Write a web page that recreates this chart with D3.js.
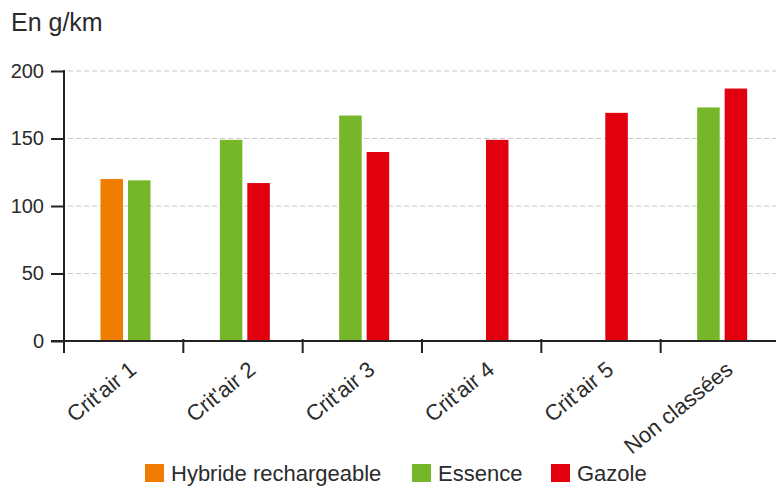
<!DOCTYPE html>
<html>
<head>
<meta charset="utf-8">
<script src="https://cdn.jsdelivr.net/npm/d3@7"></script>
<style>
  html, body { margin: 0; padding: 0; background: #fff; }
  svg text { font-family: "Liberation Sans", Arial, sans-serif; fill: #2b2b2b; }
</style>
</head>
<body>
<svg id="chart" width="776" height="489"></svg>
<script>
// Emissions moyennes de CO2 par vignette Crit'Air et motorisation (g/km)
const categories = ["Crit'air 1", "Crit'air 2", "Crit'air 3", "Crit'air 4", "Crit'air 5", "Non classées"];
const hybride = [120, null, null, null, null, null];
const essence = [119, 149, 167, null, null, 173];
const gazole  = [null, 117, 140, 149, 169, 187];
const yTicks  = [0, 50, 100, 150, 200];
const seriesNames  = ["Hybride rechargeable", "Essence", "Gazole"];
const seriesColors = ["#f07d00", "#76b72a", "#e2000f"];
const seriesValues = [hybride, essence, gazole];

const svg = d3.select("#chart");
const W = 776;

const y = d3.scaleLinear().domain([0, 200]).range([341, 71]);
const x = d3.scaleBand().domain(categories).range([64, 780]).padding(0);
// two bar slots per category; present series fill them from the right
const slot = d3.scaleBand().domain([0, 1]).range([36.5, 86.5]).paddingInner(0.18).paddingOuter(0);

// dashed gridlines
svg.append("g").selectAll("line")
  .data(yTicks.filter(d => d > 0))
  .join("line")
  .attr("x1", 68).attr("x2", W)
  .attr("y1", d => y(d)).attr("y2", d => y(d))
  .attr("stroke", "#c9c9c9").attr("stroke-width", 1.2)
  .attr("stroke-dasharray", "5,3");

// bars
const bars = [];
categories.forEach((c, i) => {
  const present = seriesValues
    .map((vals, s) => ({ s, v: vals[i] }))
    .filter(d => d.v != null);
  const offset = 2 - present.length;
  present.forEach((d, k) => bars.push({ cat: c, s: d.s, v: d.v, slot: k + offset }));
});

svg.append("g").selectAll("rect")
  .data(bars)
  .join("rect")
  .attr("x", d => x(d.cat) + slot(d.slot))
  .attr("width", slot.bandwidth())
  .attr("y", d => y(d.v))
  .attr("height", d => y(0) - y(d.v))
  .attr("fill", d => seriesColors[d.s]);

// y axis
const yAxis = svg.append("g")
  .attr("transform", "translate(64,0)")
  .call(d3.axisLeft(y).tickValues(yTicks).tickSize(13).tickSizeOuter(0).tickPadding(7));
yAxis.select(".domain").remove();
yAxis.selectAll(".tick line").attr("stroke", "#222").attr("stroke-width", 2);
yAxis.selectAll(".tick text")
  .attr("font-size", 20).attr("fill", "#2b2b2b")
  .style("font-family", "'Liberation Sans', Arial, sans-serif");

svg.append("line")
  .attr("x1", 64).attr("x2", 64)
  .attr("y1", y(200) - 1).attr("y2", 353)
  .attr("stroke", "#222").attr("stroke-width", 2);

// x axis
svg.append("line")
  .attr("x1", 51).attr("x2", W)
  .attr("y1", y(0)).attr("y2", y(0))
  .attr("stroke", "#222").attr("stroke-width", 2);

svg.append("g").selectAll("line")
  .data(categories)
  .join("line")
  .attr("x1", d => x(d)).attr("x2", d => x(d))
  .attr("y1", y(0) - 2).attr("y2", 353)
  .attr("stroke", "#222").attr("stroke-width", 2);

svg.append("g").selectAll("text")
  .data(categories)
  .join("text")
  .attr("transform", d => `translate(${x(d) + x.bandwidth() / 2 + 14},372) rotate(-39)`)
  .attr("text-anchor", "end")
  .attr("font-size", 22)
  .text(d => d);

// axis title
svg.append("text")
  .attr("x", 11).attr("y", 31)
  .attr("font-size", 25)
  .text("En g/km");

// legend
const legendX = [145, 412, 551];
const lg = svg.append("g").selectAll("g")
  .data(seriesNames)
  .join("g")
  .attr("transform", (d, i) => `translate(${legendX[i]},464)`);
lg.append("rect").attr("width", 19).attr("height", 18)
  .attr("fill", (d, i) => seriesColors[i]);
lg.append("text").attr("x", 26).attr("y", 17)
  .attr("font-size", 22)
  .text(d => d);
</script>
</body>
</html>
